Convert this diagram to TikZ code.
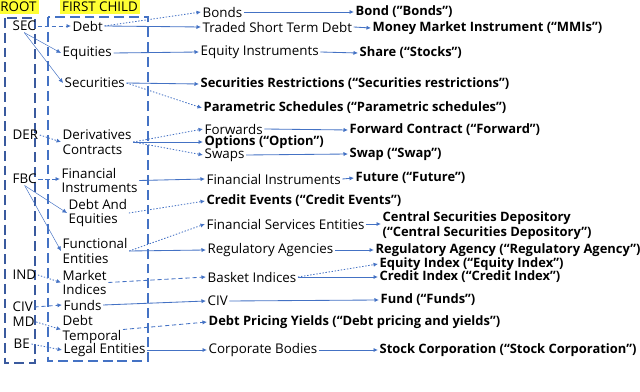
\documentclass[tikz,border=0pt]{standalone}
\usepackage{fontspec}
\setmainfont{Open Sans}
\usetikzlibrary{arrows.meta}
\definecolor{msblue}{HTML}{4472C4}
\definecolor{rootblue}{HTML}{3A5A9E}
\definecolor{hilite}{HTML}{FFFF33}
\begin{document}
\begin{tikzpicture}[x=0.025cm, y=-0.025cm,
    lbl/.style={anchor=west, inner sep=1pt, align=left, font=\fontsize{9.5}{10.2}\selectfont},
    leaf/.style={lbl, font=\fontsize{9.2}{10.8}\selectfont\bfseries},
    hdr/.style={fill=hilite, inner sep=1.5pt, font=\fontsize{9.5}{10.2}\selectfont},
    boxline/.style={line width=1.8pt, dash pattern=on 7pt off 3.5pt},
    myarrow/.style={-{Latex[length=3.2pt,width=3pt]}, msblue, line width=0.6pt},
    thinarrow/.style={myarrow, line width=0.35pt},
    dashedarrow/.style={myarrow, dash pattern=on 3pt off 2pt},
    dottedarrow/.style={myarrow, dash pattern=on 1pt off 1.2pt},
]
\useasboundingbox (0,0) rectangle (640,392);

% dashed frames
\draw[boxline, rootblue] (5,18) rectangle (35,363);
\draw[boxline, msblue] (48,17) rectangle (148,361);
\node[hdr] (root) at (18.5,7) {ROOT};
\node[hdr] (fchild) at (100,7) {FIRST CHILD};

% root
\node[lbl] (sec) at (11,26) {SEC};
\node[lbl] (der) at (11,135) {DER};
\node[lbl] (fbc) at (11,179) {FBC};
\node[lbl] (ind) at (11,275) {IND};
\node[lbl] (civr) at (11,307) {CIV};
\node[lbl] (md) at (11,322) {MD};
\node[lbl] (be) at (12,344) {BE};

% first child
\node[lbl] (deb) at (71,26) {Debt};
\node[lbl] (equ) at (61,53) {Equities};
\node[lbl] (secu) at (63,83) {Securities};
\node[lbl] (deriv) at (61,142) {Derivatives\\Contracts};
\node[lbl] (finin) at (60,180.5) {Financial\\Instruments};
\node[lbl] (dae) at (67,213) {Debt And\\Equities};
\node[lbl] (func) at (61,251) {Functional\\Entities};
\node[lbl] (mkt) at (61,282.5) {Market\\Indices};
\node[lbl] (fund) at (62,305) {Funds};
\node[lbl] (dtemp) at (61,329.5) {Debt\\Temporal};
\node[lbl] (legal) at (62,350) {Legal Entities};

% second level
\node[lbl] (bonds) at (201,12) {Bonds};
\node[lbl] (traded) at (201,27) {Traded Short Term Debt};
\node[lbl] (eqins) at (199,52) {Equity Instruments};
\node[leaf] (secres) at (199,84) {Securities Restrictions (“Securities restrictions”)};
\node[leaf] (param) at (202,108) {Parametric Schedules (“Parametric schedules”)};
\node[lbl] (fwds) at (203,129) {Forwards};
\node[leaf] (opts) at (203,142) {Options (“Option”)};
\node[lbl] (swaps) at (203,155) {Swaps};
\node[lbl] (finin2) at (205,179) {Financial Instruments};
\node[leaf] (credev) at (205,201) {Credit Events (“Credit Events”)};
\node[lbl] (fse) at (205,224) {Financial Services Entities};
\node[lbl] (regag) at (206,250) {Regulatory Agencies};
\node[lbl] (basket) at (206,277) {Basket Indices};
\node[lbl] (civ) at (206,301) {CIV};
\node[leaf] (dpy) at (207,322) {Debt Pricing Yields (“Debt pricing and yields”)};
\node[lbl] (corp) at (207,350) {Corporate Bodies};

% leaves
\node[leaf] (bond) at (354,12) {Bond ("Bonds”)};
\node[leaf] (mmi) at (371,28) {Money Market Instrument (“MMIs”)};
\node[leaf] (share) at (358,53) {Share (“Stocks”)};
\node[leaf] (fwdc) at (348,130) {Forward Contract (“Forward”)};
\node[leaf] (swap) at (348,154) {Swap (“Swap”)};
\node[leaf] (future) at (354,178) {Future (“Future”)};
\node[leaf] (csd) at (381,226) {Central Securities Depository\\(“Central Securities Depository”)};
\node[leaf] (regagency) at (374,250) {Regulatory Agency (“Regulatory Agency”)};
\node[leaf] (eqidx) at (378,264) {Equity Index (“Equity Index”)};
\node[leaf] (credidx) at (378,277) {Credit Index (“Credit Index”)};
\node[leaf] (fundf) at (379,300) {Fund (“Funds”)};
\node[leaf] (stockc) at (378,350) {Stock Corporation (“Stock Corporation”)};

% root -> first child
\draw[dashedarrow] (sec.east) -- (deb.west);
\draw[thinarrow] (sec.south) -- (equ.west);
\draw[thinarrow] (sec.south) -- (secu.west);
\draw[dottedarrow] (der.east) -- (deriv.west);
\draw[dashedarrow] (fbc.east) -- (finin.west |- fbc.east);
\draw[thinarrow] (fbc.south) -- (dae.west);
\draw[thinarrow] (fbc.south) -- (func.west);
\draw[dottedarrow] (ind.east) -- (mkt.west);
\draw[dashedarrow] (civr.east) -- (fund.west);
\draw[dottedarrow] (md.east) -- (dtemp.west);
\draw[dottedarrow] (be.east) -- (legal.west);

% first child -> second level
\draw[dottedarrow] (deb.east) -- (bonds.west);
\draw[myarrow] (deb.east) -- (traded.west);
\draw[myarrow] (equ.east) -- (eqins.west);
\draw[myarrow] (secu.east) -- (secres.west);
\draw[dottedarrow] (secu.east) -- (param.west);
\draw[dottedarrow] (deriv.east) -- (fwds.west);
\draw[myarrow] (deriv.east) -- (opts.west);
\draw[dottedarrow] (deriv.east) -- (swaps.west);
\draw[myarrow] (finin.east) -- (finin2.west);
\draw[dottedarrow] (dae.east) -- (credev.west);
\draw[dottedarrow] (func.east) -- (fse.west);
\draw[myarrow] (func.east) -- (regag.west);
\draw[dashedarrow] (mkt.east) -- (basket.west);
\draw[myarrow] (fund.east) -- (civ.west);
\draw[dashedarrow] (dtemp.east) -- (dpy.west);
\draw[myarrow] (legal.east) -- (corp.west);

% second level -> leaves
\draw[myarrow] (bonds.east) -- (bond.west);
\draw[myarrow] (traded.east) -- (mmi.west);
\draw[myarrow] (eqins.east) -- (share.west);
\draw[myarrow] (fwds.east) -- (fwdc.west);
\draw[myarrow] (swaps.east) -- (swap.west);
\draw[myarrow] (finin2.east) -- (future.west);
\draw[myarrow] (fse.east) -- (csd.west |- fse.east);
\draw[myarrow] (regag.east) -- (regagency.west);
\draw[dottedarrow] (basket.east) -- (eqidx.west);
\draw[myarrow] (basket.east) -- (credidx.west);
\draw[myarrow] (civ.east) -- (fundf.west);
\draw[myarrow] (corp.east) -- (stockc.west);
\end{tikzpicture}
\end{document}
